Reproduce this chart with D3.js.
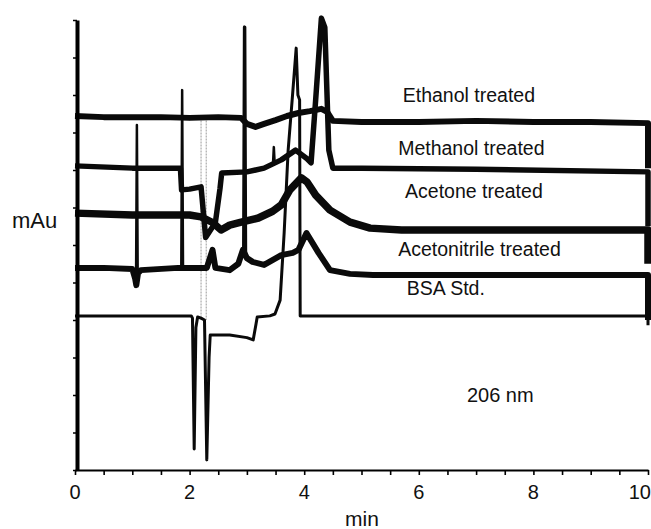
<!DOCTYPE html>
<html>
<head>
<meta charset="utf-8">
<script src="https://cdn.jsdelivr.net/npm/d3@7"></script>
<style>
  body { margin: 0; background: #fff; }
  text { font-family: "Liberation Sans", Arial, sans-serif; fill: #111; }
</style>
</head>
<body>
<div id="paper"></div>
<script>
// chromatogram traces, [time (min), signal (mAu)]
const ethanol = [[0,94.4],[0.5,94.1],[1,94.1],[1.5,94.1],[2,93.9],[2.5,94.1],[2.9,93.9],[3.0,92.3],[3.15,91.5],[3.3,92.3],[3.5,93.3],[3.7,94.4],[3.9,95.2],[4.1,95.7],[4.3,96.3],[4.4,95.5],[4.5,93.1],[5,92.8],[6,92.8],[7,93.1],[8,92.8],[9,92.8],[10,92.5],[10,80.5]];
const methanol = [[0,81.1],[1,80.5],[1.84,80.5],[1.86,74.7],[2.0,74.9],[2.2,75.5],[2.28,62],[2.45,66],[2.53,75],[2.56,79.2],[3.0,79.5],[3.3,80.5],[3.6,82.7],[3.85,85.3],[4.05,83],[4.12,81.9],[4.2,98.7],[4.3,120.5],[4.36,118],[4.43,85.3],[4.5,80.5],[5,80.5],[7,80.2],[10,79.5],[10,65]];
const acetone = [[0,68.5],[1,68],[2,68],[2.2,67.5],[2.4,66],[2.55,64],[2.7,65.3],[2.9,66.1],[3.2,67.2],[3.45,69],[3.6,70.7],[3.75,74.7],[3.95,77.9],[4.05,76.8],[4.2,73.3],[4.45,69.3],[4.8,66.1],[5.15,64.5],[5.7,64],[7,64],[10,64],[10,55]];
const acetonitrile = [[0,53.9],[0.5,53.9],[1.0,53.6],[1.05,51],[1.07,49.3],[1.1,52.5],[1.15,53.3],[1.8,53.9],[2.3,53.9],[2.4,58.7],[2.45,53.9],[2.7,53.3],[2.85,55],[2.93,58.7],[3.0,56.5],[3.1,55.5],[3.3,54.7],[3.6,57.3],[3.8,57.9],[3.9,58.7],[4.04,63.2],[4.25,57.9],[4.45,53.3],[4.8,52.3],[5.2,52],[10,52],[10,40]];
const bsaStd = [[0,41.1],[1,41.1],[2.03,41.1],[2.05,40.5],[2.08,5.6],[2.11,38],[2.14,40.8],[2.2,40.5],[2.26,40],[2.3,2.7],[2.34,30],[2.36,36],[2.7,36],[3.0,35.3],[3.11,34.7],[3.16,39],[3.18,40.8],[3.4,41.1],[3.49,41.6],[3.58,45.3],[3.65,63.2],[3.72,85.3],[3.79,98.7],[3.86,112.5],[3.89,100],[3.92,98.7],[3.93,41.1],[4.0,41.1],[10,41.1],[10,38.6]];
// narrow spikes: [time, from, to]
const spikes = [[1.08,49.3,92],[1.87,53.9,101.3],[2.96,57,118.1],[3.47,81.5,86.1]];

const seriesNames = ["Ethanol treated", "Methanol treated", "Acetone treated", "Acetonitrile treated", "BSA Std."];
const seriesData = [ethanol, methanol, acetone, acetonitrile, bsaStd];
// where each label sits: [time, signal]
const labelPos = [[5.72,98.1],[5.64,84],[5.76,72.5],[5.64,57],[5.79,46.7]];
// faint injection artefacts (grey verticals)
const artefactTimes = [2.2, 2.29];
const xTicks = [0, 2, 4, 6, 8, 10];

const width = 651, height = 529;
const x = d3.scaleLinear().domain([0, 10]).range([75, 648]);
const y = d3.scaleLinear().domain([0, 120]).range([470, 20]);

const svg = d3.select("#paper").append("svg")
  .attr("width", width)
  .attr("height", height);

const line = d3.line().x(d => x(d[0])).y(d => y(d[1]));

svg.append("g")
  .selectAll("line")
  .data(artefactTimes)
  .join("line")
  .attr("x1", d => x(d)).attr("x2", d => x(d))
  .attr("y1", y(94)).attr("y2", y(40))
  .attr("stroke", "#999")
  .attr("stroke-width", 1)
  .attr("stroke-dasharray", "2,1");

// noisy baselines in the scan look like thick strokes
const widths = [6, 5.5, 7.5, 6, 3];
svg.append("g")
  .attr("fill", "none")
  .attr("stroke", "#0a0a0a")
  .attr("stroke-linejoin", "round")
  .selectAll("path")
  .data(seriesData)
  .join("path")
  .attr("stroke-width", (d, i) => widths[i])
  .attr("d", line);

svg.append("g")
  .attr("fill", "none")
  .attr("stroke", "#0a0a0a")
  .attr("stroke-linejoin", "round")
  .selectAll("path")
  .data(spikes)
  .join("path")
  .attr("stroke-width", d => d[2] > 110 ? 3.5 : 2.5)
  .attr("d", d => line([[d[0] - 0.015, d[1]], [d[0], d[2]], [d[0] + 0.015, d[1]]]));

svg.append("g")
  .selectAll("text")
  .data(seriesNames)
  .join("text")
  .attr("x", (d, i) => x(labelPos[i][0]))
  .attr("y", (d, i) => y(labelPos[i][1]))
  .attr("font-size", 19.5)
  .text(d => d);

svg.append("text")
  .attr("x", x(6.84)).attr("y", y(18.1))
  .attr("font-size", 20)
  .text("206 nm");

// x axis
const xAxis = svg.append("g")
  .attr("transform", `translate(0,${y(0)})`)
  .call(d3.axisBottom(x).tickValues(d3.range(0, 10.01, 0.5)).tickSize(5).tickSizeOuter(0).tickFormat(""));
xAxis.select(".domain").attr("stroke-width", 2);
xAxis.selectAll(".tick line").attr("stroke-width", 1.6);

svg.append("g")
  .selectAll("text")
  .data(xTicks)
  .join("text")
  .attr("x", d => d == 10 ? width : x(d))
  .attr("y", 499)
  .attr("text-anchor", d => d == 10 ? "end" : "middle")
  .attr("font-size", 20)
  .text(d => d);

svg.append("text")
  .attr("x", 362).attr("y", 526)
  .attr("text-anchor", "middle")
  .attr("font-size", 21)
  .text("min");

// y axis, labels unreadable in source so only marks
const yAxis = svg.append("g")
  .attr("transform", `translate(${x(0) + 2},0)`)
  .call(d3.axisLeft(y).tickValues(d3.range(0, 121, 10)).tickSize(4).tickSizeOuter(0).tickFormat(""));
yAxis.select(".domain").attr("stroke-width", 4);
yAxis.selectAll(".tick line").attr("stroke-width", 1.5);

svg.append("text")
  .attr("x", 12).attr("y", 228)
  .attr("font-size", 22)
  .text("mAu");
</script>
</body>
</html>
